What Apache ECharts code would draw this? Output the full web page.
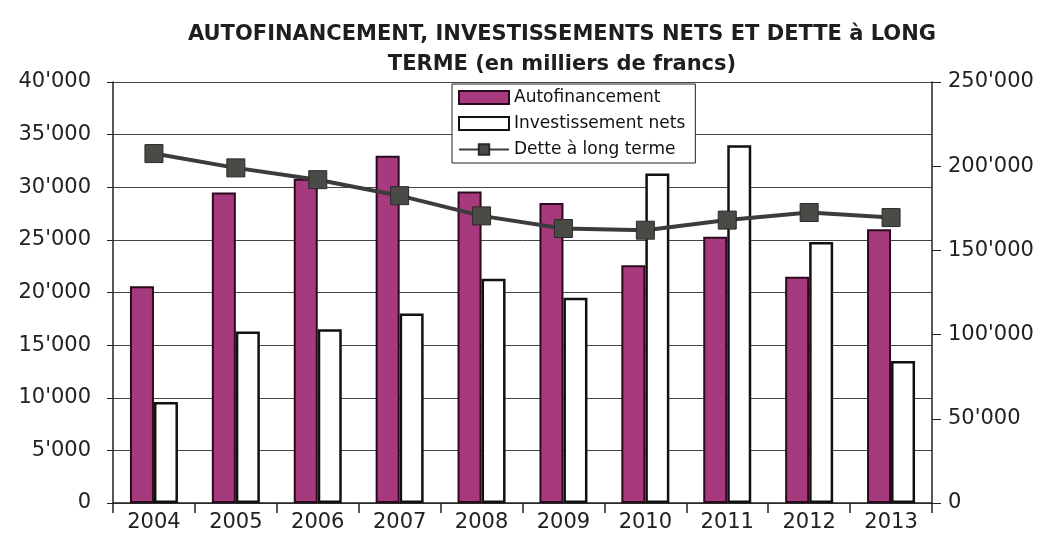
<!DOCTYPE html>
<html>
<head>
<meta charset="utf-8">
<script src="https://cdn.jsdelivr.net/npm/echarts@6/dist/echarts.min.js"></script>
<style>html,body{margin:0;padding:0;background:#fff}#c{width:1052px;height:547px}</style>
</head>
<body>
<div id="c"></div>
<script>
const categories = ['2004','2005','2006','2007','2008','2009','2010','2011','2012','2013'];
const autofinancement = [20600, 29500, 30800, 33000, 29600, 28500, 22600, 25300, 21500, 26000];
const investissements = [9600, 16300, 16500, 18000, 21300, 19500, 31300, 34000, 24800, 13500];
const dette = [207500, 199000, 192000, 182500, 170500, 163000, 162000, 168000, 172500, 169500];
const titleLines = ['AUTOFINANCEMENT, INVESTISSEMENTS NETS ET DETTE à LONG', 'TERME (en milliers de francs)'];

const fmt = v => String(v).replace(/\B(?=(\d{3})+(?!\d))/g, "'");
const FONT = 'DejaVu Sans';

const chart = echarts.init(document.getElementById('c'), null, {renderer: 'canvas'});
chart.setOption({
  animation: false,
  backgroundColor: '#fff',
  title: {
    text: titleLines.join('\n'),
    left: 557, top: 15, textAlign: 'center',
    textStyle: {fontFamily: FONT, fontWeight: 'bold', fontSize: 21, color: '#1e1e1e', lineHeight: 30}
  },
  legend: {
    orient: 'vertical', left: 452, top: 84,
    backgroundColor: '#fff', borderColor: '#222', borderWidth: 1,
    padding: [5, 10, 5, 6], itemGap: 9, itemWidth: 50, itemHeight: 13,
    textStyle: {fontFamily: FONT, fontSize: 17, color: '#111'},
    data: [
      {name: 'Autofinancement', icon: 'rect'},
      {name: 'Investissement nets', icon: 'rect'},
      {name: 'Dette à long terme'}
    ]
  },
  grid: {left: 113, right: 120, top: 82, bottom: 44},
  xAxis: {
    type: 'category', data: categories,
    axisLine: {lineStyle: {color: '#222', width: 1.5}},
    axisTick: {show: true, length: 10, lineStyle: {color: '#222', width: 1.5}},
    axisLabel: {fontFamily: FONT, fontSize: 21, color: '#222', margin: 9}
  },
  yAxis: [
    {
      type: 'value', min: 0, max: 40000, interval: 5000,
      axisLine: {show: true, lineStyle: {color: '#222', width: 1.5}},
      axisTick: {show: true, length: 6, lineStyle: {color: '#222'}},
      splitLine: {lineStyle: {color: '#444', width: 1}},
      axisLabel: {fontFamily: FONT, fontSize: 21, color: '#222', margin: 22, formatter: fmt}
    },
    {
      type: 'value', min: 0, max: 250000, interval: 50000, position: 'right',
      axisLine: {show: true, lineStyle: {color: '#222', width: 1.5}},
      axisTick: {show: true, length: 9, lineStyle: {color: '#222'}},
      splitLine: {show: false},
      axisLabel: {fontFamily: FONT, fontSize: 21, color: '#222', margin: 16, formatter: fmt}
    }
  ],
  series: [
    {
      name: 'Autofinancement', type: 'bar', data: autofinancement, yAxisIndex: 0,
      barWidth: 24, barGap: '0%',
      itemStyle: {color: '#a63a7c', borderColor: '#2a0a1e', borderWidth: 2}
    },
    {
      name: 'Investissement nets', type: 'bar', data: investissements, yAxisIndex: 0,
      barWidth: 24, barGap: '0%',
      itemStyle: {color: '#ffffff', borderColor: '#111', borderWidth: 2.5}
    },
    {
      name: 'Dette à long terme', type: 'line', data: dette, yAxisIndex: 1,
      symbol: 'rect', symbolSize: 18, z: 5,
      lineStyle: {color: '#3c3c3c', width: 4},
      itemStyle: {color: '#4a4a46', borderColor: '#2a2a2a', borderWidth: 1}
    }
  ]
});
</script>
</body>
</html>
